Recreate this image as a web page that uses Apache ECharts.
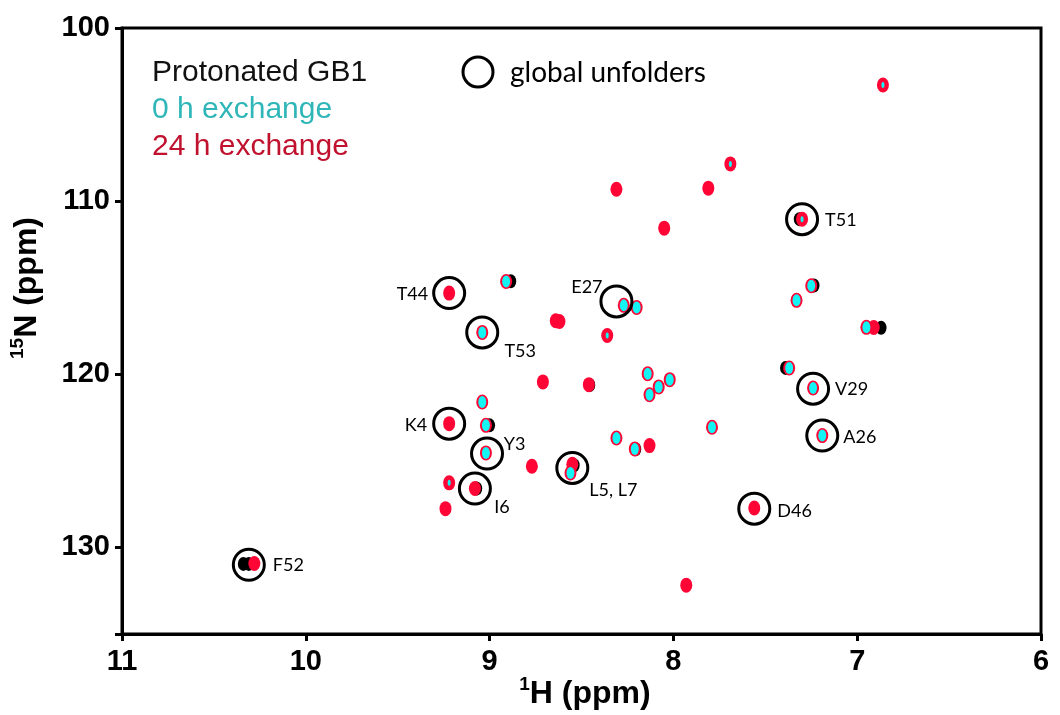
<!DOCTYPE html>
<html><head><meta charset="utf-8">
<script src="https://cdn.jsdelivr.net/npm/echarts@6/dist/echarts.min.js"></script>
<style>html,body{margin:0;padding:0;background:#fff}#c{width:1060px;height:715px}</style>
</head><body><div id="c"></div>
<script>
// ---- data (1H ppm, 15N ppm) ----
const xTicks = [11, 10, 9, 8, 7, 6];
const yTicks = [100, 110, 120, 130];

// protonated GB1 (black) contours visible beside the other spectra
const protonated = [[7.315,111.04],[8.885,114.63],[7.235,114.87],[6.87,117.31],[8.455,120.62],
  [7.39,119.63],[8.205,124.33],[8.54,125.25],[9.00,122.95],[9.07,126.60],[10.31,130.95],[10.34,130.95]];

// 24 h exchange (red)
const exch24h = [[6.86,103.29],[7.69,107.85],[7.81,109.25],[8.31,109.31],[8.05,111.56],[7.30,111.04],
  [8.91,114.64],[9.22,115.31],[8.27,116.02],[8.20,116.14],[7.25,114.89],[7.33,115.73],[6.95,117.29],
  [6.91,117.30],[8.64,116.91],[8.62,116.95],[9.04,117.58],[8.36,117.76],[8.71,120.44],[8.46,120.60],
  [8.14,119.97],[8.08,120.73],[8.02,120.31],[8.13,121.18],[7.37,119.64],[7.24,120.79],[7.79,123.06],
  [7.19,123.54],[8.31,123.68],[8.21,124.31],[8.13,124.12],[8.55,125.20],[8.56,125.70],[7.56,127.72],
  [7.93,132.18],[8.77,125.31],[9.04,121.60],[9.22,122.85],[9.02,122.95],[9.02,124.54],[9.22,126.27],
  [9.08,126.60],[9.24,127.76],[10.28,130.93]];

// 0 h exchange (cyan), strong and weak peaks
const exch0h = [[8.91,114.64],[8.27,116.02],[8.20,116.14],[7.25,114.89],[7.33,115.73],[6.95,117.29],
  [9.04,117.58],[8.14,119.97],[8.08,120.73],[8.02,120.31],[8.13,121.18],[7.37,119.64],[7.24,120.79],
  [7.79,123.06],[7.19,123.54],[8.31,123.68],[8.21,124.31],[8.56,125.70],[9.04,121.60],[9.02,122.95],
  [9.02,124.54]];
const exch0hWeak = [[6.86,103.29],[7.69,107.85],[7.30,111.04],[8.36,117.76],[9.22,126.27]];

// global unfolders (circled)
const unfolderNames = ['T51','T44','E27','T53','V29','A26','K4','Y3','I6','L5, L7','D46','F52'];
const unfolderH     = [7.30, 9.22, 8.31, 9.04, 7.24, 7.19, 9.22, 9.014, 9.08, 8.55, 7.56, 10.31];
const unfolderN     = [111.04,115.31,115.79,117.58,120.83,123.54,122.85,124.58,126.60,125.41,127.76,131.0];

// ---- styles ----
const labelPlace = {
  'T51':['left',23,1.5], 'T44':['right',-21,1], 'E27':['center',-29.5,-14.5], 'T53':['center',38,18.5],
  'V29':['left',22,0.5], 'A26':['left',21,2], 'K4':['right',-22,1.5], 'Y3':['center',27.5,-9.5],
  'I6':['center',27,18.5], 'L5, L7':['center',41,22.5], 'D46':['left',23,3], 'F52':['left',24,0.5]
};
const unfolderData = unfolderNames.map((n,i)=>({
  name:n, value:[unfolderH[i], unfolderN[i]],
  label:{align:labelPlace[n][0], offset:[labelPlace[n][1], labelPlace[n][2]]}
}));

const chart = echarts.init(document.getElementById('c'), null, {renderer:'canvas'});
const axisFont = {fontFamily:'Liberation Sans, Arial, sans-serif', fontWeight:'bold', fontSize:29, color:'#000'};
const nameRich = {
  s:{fontSize:19, fontWeight:'bold', fontFamily:'Liberation Sans, Arial', fill:'#000', lineHeight:24, verticalAlign:'top'},
  m:{fontSize:32, fontWeight:'bold', fontFamily:'Liberation Sans, Arial', fill:'#000', lineHeight:38}
};

chart.setOption({
  animation:false,
  backgroundColor:'#fff',
  grid:{left:122, right:19, top:28, bottom:81, show:true, borderColor:'#000', borderWidth:3, backgroundColor:'transparent'},
  xAxis:{
    type:'value', min:6, max:11, interval:1, inverse:true,
    axisLine:{show:true, onZero:false, lineStyle:{color:'#000', width:3}},
    axisTick:{show:true, length:7, lineStyle:{color:'#000', width:3}},
    splitLine:{show:false},
    axisLabel:Object.assign({margin:13, formatter:v=>xTicks.includes(v)?String(v):''}, axisFont)
  },
  yAxis:{
    type:'value', min:100, max:135, interval:10, inverse:true,
    axisLine:{show:true, onZero:false, lineStyle:{color:'#000', width:3}},
    axisTick:{show:true, length:7, lineStyle:{color:'#000', width:3}},
    splitLine:{show:false},
    axisLabel:Object.assign({margin:12, formatter:v=>yTicks.includes(v)?String(v):''}, axisFont)
  },
  graphic:[
    {type:'text', x:152, y:73, style:{text:'Protonated GB1', fill:'#111', font:'30px "Liberation Sans", Arial, sans-serif', textVerticalAlign:'middle'}},
    {type:'text', x:152, y:110, style:{text:'0 h exchange', fill:'#2fb6b8', font:'30px "Liberation Sans", Arial, sans-serif', textVerticalAlign:'middle'}},
    {type:'text', x:152, y:147, style:{text:'24 h exchange', fill:'#c0122f', font:'30px "Liberation Sans", Arial, sans-serif', textVerticalAlign:'middle'}},
    {type:'circle', shape:{cx:478, cy:72, r:15}, style:{fill:'none', stroke:'#000', lineWidth:3}, z:10},
    {type:'text', x:510, y:73, style:{text:'global unfolders', fill:'#000', font:'28px Lato, "Open Sans", sans-serif', textVerticalAlign:'middle'}},
    {type:'text', x:585, y:694, style:{text:'{s|1}{m|H (ppm)}', textAlign:'center', textVerticalAlign:'middle', rich:nameRich}},
    {type:'text', x:27, y:288, rotation:Math.PI/2, style:{text:'{s|15}{m|N (ppm)}', textAlign:'center', textVerticalAlign:'middle', rich:nameRich}}
  ],
  series:[
    {name:'Protonated GB1', type:'scatter', data:protonated, symbol:'circle', symbolSize:[11,14],
     itemStyle:{color:'#000', opacity:1}, z:2, silent:true},
    {name:'24 h exchange', type:'scatter', data:exch24h, symbol:'circle', symbolSize:[12,15],
     itemStyle:{color:'#ff0535', opacity:1}, z:3, silent:true},
    {name:'0 h exchange', type:'scatter', data:exch0h, symbol:'circle', symbolSize:[8,12],
     itemStyle:{color:'#14f4f4', opacity:1}, z:4, silent:true},
    {name:'0 h exchange weak', type:'scatter', data:exch0hWeak, symbol:'circle', symbolSize:[3,6],
     itemStyle:{color:'#14f4f4', opacity:1}, z:4, silent:true},
    {name:'global unfolders', type:'scatter', data:unfolderData, symbol:'circle', symbolSize:31,
     itemStyle:{color:'rgba(0,0,0,0)', borderColor:'#000', borderWidth:3, opacity:1}, z:5, silent:true,
     label:{show:true, formatter:'{b}', position:'inside', verticalAlign:'middle',
            fontFamily:'Lato, "Open Sans", sans-serif', fontSize:18, color:'#000'}}
  ]
});
</script></body></html>
